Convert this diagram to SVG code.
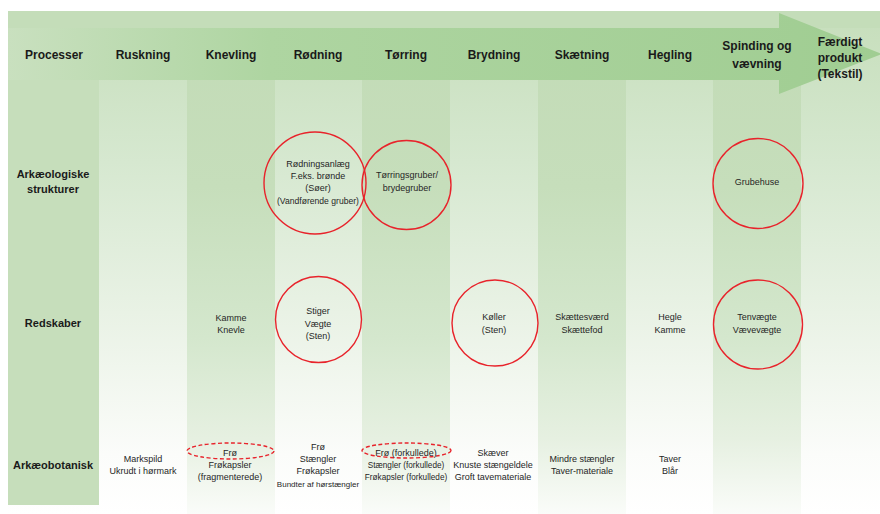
<svg xmlns="http://www.w3.org/2000/svg" width="880" height="514" viewBox="0 0 880 514">
<style>
.h{font-family:"Liberation Sans",Arial,sans-serif;font-weight:bold;font-size:12px;fill:#1a1a1a;text-anchor:middle}
.r{font-family:"Liberation Sans",Arial,sans-serif;font-weight:bold;font-size:11px;fill:#1a1a1a;text-anchor:middle}
.t{font-family:"Liberation Sans",Arial,sans-serif;font-size:9px;fill:#262626;text-anchor:middle}
.c{fill:none;stroke:#E8232B;stroke-width:1.4}
.d{fill:none;stroke:#E8232B;stroke-width:1.4;stroke-dasharray:4 2.5}
</style>
<defs>
<linearGradient id="gl" x1="0" y1="0" x2="0" y2="1">
<stop offset="0" stop-color="#C6DEBB"/>
<stop offset="0.3" stop-color="#D6E8D0"/>
<stop offset="0.6" stop-color="#E9F2E5"/>
<stop offset="0.88" stop-color="#FBFCFA"/>
<stop offset="1" stop-color="#FFFFFF"/>
</linearGradient>
<linearGradient id="gd" x1="0" y1="0" x2="0" y2="1">
<stop offset="0" stop-color="#C2DBB6"/>
<stop offset="0.35" stop-color="#C6DEBB"/>
<stop offset="0.65" stop-color="#D4E7CD"/>
<stop offset="0.85" stop-color="#E6F0E1"/>
<stop offset="1" stop-color="#FAFCF9"/>
</linearGradient>
<linearGradient id="ga" x1="8" y1="0" x2="880" y2="0" gradientUnits="userSpaceOnUse">
<stop offset="0" stop-color="#C9E0BF"/>
<stop offset="0.3" stop-color="#AED5A1"/>
<stop offset="1" stop-color="#A0CD92"/>
</linearGradient>
</defs>
<g id="background">
<rect x="8" y="11" width="872" height="503" fill="url(#gl)"/>
<rect x="187" y="11" width="88" height="503" fill="url(#gd)"/>
<rect x="362" y="11" width="88" height="503" fill="url(#gd)"/>
<rect x="538" y="11" width="88" height="503" fill="url(#gd)"/>
<rect x="713" y="11" width="88" height="503" fill="url(#gd)"/>
<rect x="8" y="11" width="91" height="494" fill="#C6DEBB"/>
<rect x="8" y="11" width="872" height="17" fill="#C4DDB9"/>
</g>
<g id="arrow">
<path d="M8 28 H779 V13 L882 54 L779 94 V80 H8 Z" fill="url(#ga)"/>
</g>
<g id="header">
<text class="h" x="54" y="59">Processer</text>
<text class="h" x="143" y="59">Ruskning</text>
<text class="h" x="231" y="59">Knevling</text>
<text class="h" x="318" y="59">Rødning</text>
<text class="h" x="406" y="59">Tørring</text>
<text class="h" x="494" y="59">Brydning</text>
<text class="h" x="582" y="59">Skætning</text>
<text class="h" x="670" y="59">Hegling</text>
<text class="h" x="757" y="50">Spinding og</text>
<text class="h" x="757" y="68">vævning</text>
<text class="h" x="840" y="46">Færdigt</text>
<text class="h" x="840" y="62">produkt</text>
<text class="h" x="840" y="78">(Tekstil)</text>
</g>
<g id="rowlabels">
<text class="r" x="53" y="178">Arkæologiske</text>
<text class="r" x="53" y="193">strukturer</text>
<text class="r" x="53" y="327">Redskaber</text>
<text class="r" x="53" y="469">Arkæobotanisk</text>
</g>
<g id="connectors"></g>
<g id="n-roedningsanlaeg">
<circle class="c" cx="315" cy="183" r="51"/>
<text class="t" x="318" y="167">Rødningsanlæg</text>
<text class="t" x="318" y="179">F.eks. brønde</text>
<text class="t" x="318" y="191">(Søer)</text>
<text class="t" x="318" y="204" style="font-size:8.6px">(Vandførende gruber)</text>
</g>
<g id="n-toerringsgruber">
<circle class="c" cx="406.5" cy="185" r="44.5"/>
<text class="t" x="407" y="178">Tørringsgruber/</text>
<text class="t" x="407" y="191">brydegruber</text>
</g>
<g id="n-grubehuse">
<circle class="c" cx="758" cy="183.5" r="45"/>
<text class="t" x="757" y="185">Grubehuse</text>
</g>
<g id="n-kamme-knevle">
<text class="t" x="231" y="321">Kamme</text>
<text class="t" x="231" y="333">Knevle</text>
</g>
<g id="n-stiger">
<circle class="c" cx="318.5" cy="319.5" r="43"/>
<text class="t" x="318" y="314">Stiger</text>
<text class="t" x="318" y="327">Vægte</text>
<text class="t" x="318" y="339">(Sten)</text>
</g>
<g id="n-koeller">
<circle class="c" cx="495" cy="323" r="43"/>
<text class="t" x="494" y="320">Køller</text>
<text class="t" x="494" y="333">(Sten)</text>
</g>
<g id="n-skaettesvaerd">
<text class="t" x="582" y="320">Skættesværd</text>
<text class="t" x="582" y="333">Skættefod</text>
</g>
<g id="n-hegle">
<text class="t" x="670" y="320">Hegle</text>
<text class="t" x="670" y="333">Kamme</text>
</g>
<g id="n-tenvaegte">
<circle class="c" cx="758" cy="324.5" r="44.5"/>
<text class="t" x="757" y="320">Tenvægte</text>
<text class="t" x="757" y="333">Vævevægte</text>
</g>
<g id="n-markspild">
<text class="t" x="143" y="462">Markspild</text>
<text class="t" x="143" y="474">Ukrudt i hørmark</text>
</g>
<g id="n-froe-knevling">
<ellipse class="d" cx="230.5" cy="451" rx="43.5" ry="8"/>
<text class="t" x="230" y="456">Frø</text>
<text class="t" x="230" y="468">Frøkapsler</text>
<text class="t" x="230" y="480">(fragmenterede)</text>
</g>
<g id="n-froe-roedning">
<text class="t" x="318" y="450">Frø</text>
<text class="t" x="318" y="462">Stængler</text>
<text class="t" x="318" y="474">Frøkapsler</text>
<text class="t" x="318" y="487" style="font-size:8px">Bundter af hørstængler</text>
</g>
<g id="n-froe-toerring">
<ellipse class="d" cx="406.5" cy="450.5" rx="44.5" ry="7.5"/>
<text class="t" x="406" y="456">Frø (forkullede)</text>
<text class="t" x="406" y="468" style="font-size:8.2px">Stængler (forkullede)</text>
<text class="t" x="406" y="480" style="font-size:8.2px">Frøkapsler (forkullede)</text>
</g>
<g id="n-skaever">
<text class="t" x="493" y="456">Skæver</text>
<text class="t" x="493" y="468">Knuste stængeldele</text>
<text class="t" x="493" y="480">Groft tavemateriale</text>
</g>
<g id="n-mindre">
<text class="t" x="582" y="462">Mindre stængler</text>
<text class="t" x="582" y="474">Taver-materiale</text>
</g>
<g id="n-taver">
<text class="t" x="670" y="462">Taver</text>
<text class="t" x="670" y="474">Blår</text>
</g>
</svg>
